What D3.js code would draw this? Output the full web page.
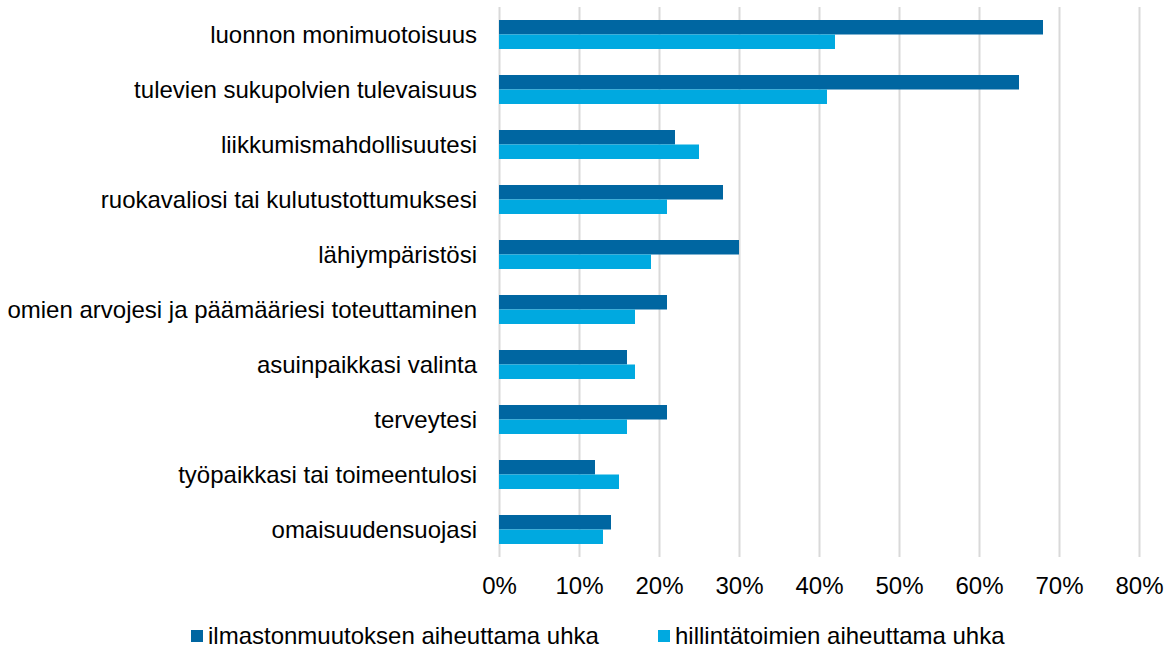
<!DOCTYPE html>
<html>
<head>
<meta charset="utf-8">
<script src="https://cdn.jsdelivr.net/npm/d3@7"></script>
<style>
    body { margin: 0; background: #fff; }
    svg text { font-family: "Liberation Sans", Arial, sans-serif; fill: #000; }
    .grid line { stroke: #d9d9d9; stroke-width: 2; }
    .grid path { display: none; }
</style>
</head>
<body>
<svg id="threatChart"></svg>
<script>
// categories, top to bottom
var categories = [
    "luonnon monimuotoisuus",
    "tulevien sukupolvien tulevaisuus",
    "liikkumismahdollisuutesi",
    "ruokavaliosi tai kulutustottumuksesi",
    "lähiympäristösi",
    "omien arvojesi ja päämääriesi toteuttaminen",
    "asuinpaikkasi valinta",
    "terveytesi",
    "työpaikkasi tai toimeentulosi",
    "omaisuudensuojasi"
];
var seriesNames = ["ilmastonmuutoksen aiheuttama uhka", "hillintätoimien aiheuttama uhka"];
var climateThreat = [0.68, 0.65, 0.22, 0.28, 0.30, 0.21, 0.16, 0.21, 0.12, 0.14];
var mitigationThreat = [0.42, 0.41, 0.25, 0.21, 0.19, 0.17, 0.17, 0.16, 0.15, 0.13];
var xTicks = [0, 0.1, 0.2, 0.3, 0.4, 0.5, 0.6, 0.7, 0.8];

var colors = ["#0066a1", "#00a9e0"];

// set the dimensions and margins of the graph
var svgWidth = 1173;
var svgHeight = 651;
var margin = { "left": 499, "right": 34, "top": 7, "bottom": 94 };
var width = svgWidth - margin.left - margin.right;
var height = svgHeight - margin.top - margin.bottom;

var svg = d3.select("#threatChart")
    .attr("width", svgWidth)
    .attr("height", svgHeight);

var g = svg.append("g")
    .attr("transform", "translate(" + margin.left + "," + margin.top + ")");

var rows = categories.map((c, i) => ({ name: c, values: [climateThreat[i], mitigationThreat[i]] }));

var x = d3.scaleLinear()
    .domain([0, 0.8])
    .range([0, width]);

var y = d3.scaleBand()
    .domain(categories)
    .range([0, height])
    .paddingInner(0.473)
    .paddingOuter(0.2365);

var ySub = d3.scaleBand()
    .domain([0, 1])
    .range([0, y.bandwidth()]);

// vertical gridlines
g.append("g")
    .attr("class", "grid")
    .attr("transform", "translate(0," + height + ")")
    .call(d3.axisBottom(x)
        .tickValues(xTicks)
        .tickSize(-height)
        .tickFormat(""));

// bars
var rowGroups = g.selectAll(".row")
    .data(rows).enter()
    .append("g")
    .attr("class", "row")
    .attr("transform", d => "translate(0," + y(d.name) + ")");

rowGroups.selectAll("rect")
    .data(d => d.values).enter()
    .append("rect")
    .attr("x", x(0))
    .attr("y", (d, i) => ySub(i))
    .attr("width", d => x(d) - x(0))
    .attr("height", ySub.bandwidth())
    .style("fill", (d, i) => colors[i]);

// category labels
var yAxis = g.append("g")
    .call(d3.axisLeft(y).tickSize(0).tickPadding(22));
yAxis.select(".domain").remove();
yAxis.selectAll("text")
    .style("font-size", "24px")
    .attr("dy", "0.35em");

// x tick labels
var xAxis = g.append("g")
    .attr("transform", "translate(0," + height + ")")
    .call(d3.axisBottom(x)
        .tickValues(xTicks)
        .tickSize(0)
        .tickPadding(20)
        .tickFormat(d3.format(".0%")));
xAxis.select(".domain").remove();
xAxis.selectAll("text")
    .style("font-size", "24px");

// legend
var legendX = [191, 658];
var legend = svg.append("g")
    .attr("class", "legend");

var legendItems = legend.selectAll(".legend-item")
    .data(seriesNames).enter()
    .append("g")
    .attr("class", "legend-item")
    .attr("transform", (d, i) => "translate(" + legendX[i] + ",630)");

legendItems.append("rect")
    .attr("width", 12)
    .attr("height", 12)
    .style("fill", (d, i) => colors[i]);

legendItems.append("text")
    .attr("x", 17)
    .attr("y", 14)
    .style("font-size", "24px")
    .text(d => d);
</script>
</body>
</html>
